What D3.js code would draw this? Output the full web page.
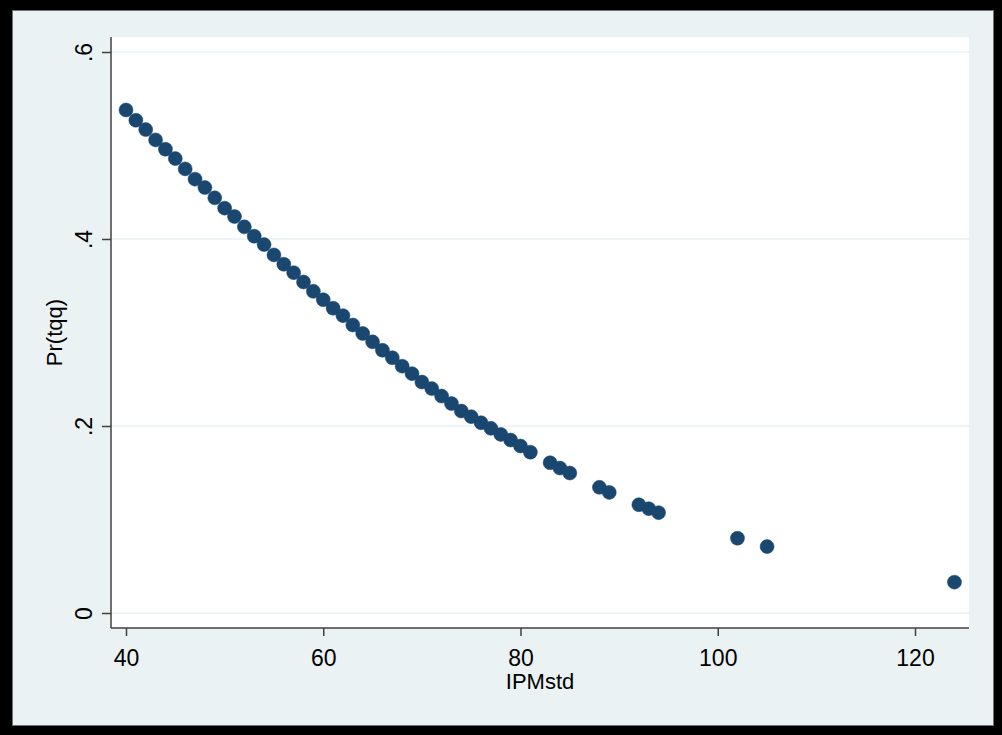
<!DOCTYPE html>
<html>
<head>
<meta charset="utf-8">
<script src="https://cdn.jsdelivr.net/npm/d3@7"></script>
<style>
  html, body { margin: 0; padding: 0; background: #ffffff; }
  svg { display: block; }
  text { font-family: "Liberation Sans", Arial, sans-serif; fill: #000; }
</style>
</head>
<body>
<script>
// ---- data ----
const ipmStd = [40,41,42,43,44,45,46,47,48,49,50,51,52,53,54,55,56,57,58,59,
                60,61,62,63,64,65,66,67,68,69,70,71,72,73,74,75,76,77,78,79,
                80,81,83,84,85,88,89,92,93,94,102,105,124];
const prTqq = [0.538,0.527,0.517,0.506,0.496,0.486,0.475,0.464,0.455,0.444,
               0.433,0.424,0.413,0.403,0.394,0.383,0.373,0.364,0.354,0.344,
               0.335,0.326,0.318,0.308,0.299,0.290,0.281,0.273,0.264,0.256,
               0.247,0.240,0.232,0.224,0.216,0.210,0.2035,0.1975,0.191,0.185,
               0.1786,0.172,0.1607,0.155,0.1497,0.1344,0.129,0.1158,0.1116,0.1073,
               0.080,0.071,0.033];
const xTicks = [40,60,80,100,120];
const yTicks = [0,0.2,0.4,0.6];
const yTickLabels = ["0",".2",".4",".6"];
const xTitle = "IPMstd";
const yTitle = "Pr(tqq)";

// ---- layout ----
const W = 1002, H = 735;
const plot = {left: 111, right: 969, top: 37, bottom: 628};

const svg = d3.select("body").append("svg").attr("width", W).attr("height", H);

// outer black frame + light background
svg.append("rect").attr("x",0).attr("y",0).attr("width",W).attr("height",H).attr("fill","#000");
svg.append("rect").attr("x",12.5).attr("y",10.5).attr("width",981).attr("height",715)
   .attr("fill","#eaf2f3").attr("stroke","#6e7374").attr("stroke-width",1);

// plot region
svg.append("rect").attr("x",plot.left).attr("y",plot.top)
   .attr("width",plot.right-plot.left).attr("height",plot.bottom-plot.top).attr("fill","#ffffff");

const x = d3.scaleLinear().domain([40,120]).range([126,915]);
const y = d3.scaleLinear().domain([0,0.6]).range([613,52]);

// gridlines
svg.append("g").selectAll("line").data(yTicks).join("line")
   .attr("x1",plot.left).attr("x2",plot.right)
   .attr("y1",d=>y(d)).attr("y2",d=>y(d))
   .attr("stroke","#eaf2f3").attr("stroke-width",1.5);

// x axis
const xAxis = d3.axisBottom(x).tickValues(xTicks).tickSize(8).tickPadding(12)
   .tickFormat(d3.format("d"));
const gx = svg.append("g").attr("transform",`translate(0,${plot.bottom})`).call(xAxis);
gx.select(".domain").attr("d",`M${plot.left},0H${plot.right}`).attr("stroke","#404040").attr("stroke-width",1.5);
gx.selectAll(".tick line").attr("stroke","#404040").attr("stroke-width",1.5);
gx.selectAll(".tick text").attr("font-size",23).attr("font-family","Liberation Sans, Arial, sans-serif")
   .attr("fill","#000").attr("dy",null).attr("y",38);

// y axis
const yAxis = d3.axisLeft(y).tickValues(yTicks).tickSize(9)
   .tickFormat((d,i)=>yTickLabels[i]);
const gy = svg.append("g").attr("transform",`translate(${plot.left},0)`).call(yAxis);
gy.select(".domain").attr("d",`M0,${plot.top}V${plot.bottom}`).attr("stroke","#404040").attr("stroke-width",1.5);
gy.selectAll(".tick line").attr("stroke","#404040").attr("stroke-width",1.5);
gy.selectAll(".tick text")
   .attr("font-size",23).attr("font-family","Liberation Sans, Arial, sans-serif").attr("fill","#000")
   .attr("x",null).attr("dy",null).attr("text-anchor","middle")
   .attr("transform","translate(-19,0) rotate(-90)");

// axis titles
svg.append("text").attr("x",(plot.left+plot.right)/2).attr("y",689)
   .attr("text-anchor","middle").attr("font-size",22).text(xTitle);
svg.append("text").attr("transform",`translate(62,${(plot.top+plot.bottom)/2}) rotate(-90)`)
   .attr("text-anchor","middle").attr("font-size",22).text(yTitle);

// points
svg.append("g").selectAll("circle").data(ipmStd.map((v,i)=>[v,prTqq[i]])).join("circle")
   .attr("cx",d=>x(d[0])).attr("cy",d=>y(d[1])).attr("r",7)
   .attr("fill","#1a476f").attr("stroke","#1a476f").attr("stroke-width",0.5);
</script>
</body>
</html>
